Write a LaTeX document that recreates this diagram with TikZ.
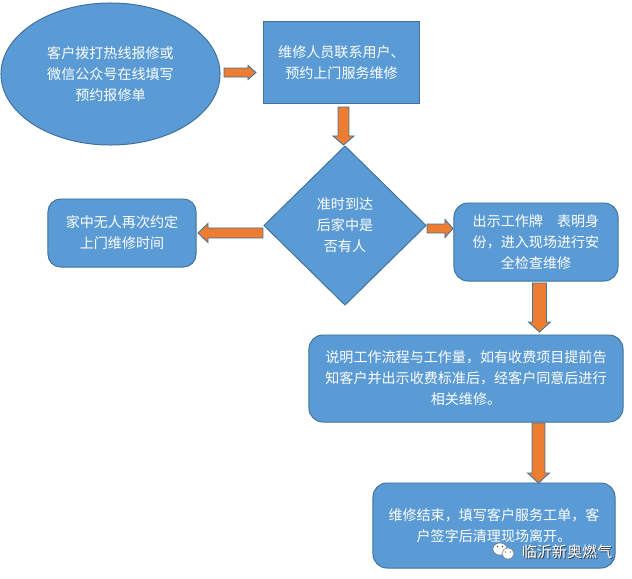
\documentclass[tikz,border=0pt]{standalone}
\usepackage{fontspec}
\newfontfamily\cjk{Noto Sans CJK SC}
\definecolor{boxblue}{RGB}{91, 155, 213}
\definecolor{edgeblue}{RGB}{65, 113, 156}
\definecolor{arroworange}{RGB}{237, 125, 49}
\usetikzlibrary{shapes, positioning, calc}

\tikzset{
  flowbox/.style={draw=edgeblue, fill=boxblue, line width=0.7pt, text=white, align=center,
    inner sep=0pt, outer sep=0pt, font=\cjk\fontsize{10pt}{15pt}\selectfont},
  roundbox/.style={flowbox, rounded corners=9pt},
  flowarrow/.style={draw=edgeblue, fill=arroworange, line width=0.6pt, line join=miter},
}

% block arrow: from, to, shaft half width, head half width, head length
\newcommand{\blockarrow}[5]{%
  \coordinate (hb) at ($(#2)!#5!(#1)$);
  \filldraw[flowarrow] ($(#1)!#3!90:(#2)$) -- ($(hb)!#3!-90:(#1)$) -- ($(hb)!#4!-90:(#1)$)
    -- (#2) -- ($(hb)!#4!90:(#1)$) -- ($(hb)!#3!90:(#1)$) -- ($(#1)!#3!-90:(#2)$) -- cycle;
}

\begin{document}
\begin{tikzpicture}[x=0.025cm, y=-0.025cm]
  \useasboundingbox (0,0) rectangle (632,579);

  % Request and appointment
  \node[flowbox, ellipse, minimum width=5.475cm, minimum height=3.55cm] (call) at (110.5,74)
    {客户拨打热线报修或\\微信公众号在线填写\\预约报修单};
  \node[flowbox, rectangle, minimum width=3.875cm, minimum height=2.025cm] (contact) at (341.5,62.5)
    {维修人员联系用户、\\预约上门服务维修};

  % Decision
  \node[flowbox, diamond, minimum width=4.05cm, minimum height=3.975cm] (home) at (345,225.5)
    {准时到达\\后家中是\\否有人};
  \node[roundbox, minimum width=3.7cm, minimum height=1.7cm] (nobody) at (122,233)
    {家中无人再次约定\\上门维修时间};
  \node[roundbox, rounded corners=10pt, minimum width=4.1cm, minimum height=1.95cm] (badge) at (536,242)
    {出示工作牌\hspace{1em}表明身\\份，进入现场进行安\\全检查维修};

  % Repair and finish
  \node[roundbox, rounded corners=10pt, minimum width=7.85cm, minimum height=2.175cm] (explain) at (466,378.5)
    {说明工作流程与工作量，如有收费项目提前告\\知客户并出示收费标准后，经客户同意后进行\\相关维修。};
  \node[roundbox, rounded corners=10pt, minimum width=6.05cm, minimum height=2.125cm] (finish) at (494,525.5)
    {维修结束，填写客户服务工单，客\\户签字后清理现场离开。};

  % Arrows
  \coordinate (a1s) at ($(call.east)+(4,-1.5)$);
  \coordinate (a1e) at ($(contact.west |- a1s)+(-8,0)$);
  \blockarrow{a1s}{a1e}{3.2pt}{5pt}{5.7pt}
  \coordinate (a2s) at ($(contact.south)+(2,4)$);
  \coordinate (a2e) at ($(home.north)+(-1.5,-1)$);
  \blockarrow{a2s}{a2e}{3.9pt}{7.5pt}{6.4pt}
  \coordinate (a3s) at ($(home.west |- nobody.east)+(-1,0)$);
  \coordinate (a3e) at ($(nobody.east)+(2,0)$);
  \blockarrow{a3s}{a3e}{3.6pt}{6.8pt}{7.1pt}
  \coordinate (a4s) at ($(home.east)+(1,3)$);
  \coordinate (a4e) at ($(home.east -| badge.west)+(-1,3)$);
  \blockarrow{a4s}{a4e}{3.2pt}{6.4pt}{5.7pt}
  \coordinate (a5s) at ($(badge.south)+(3.5,2)$);
  \coordinate (a5e) at ($(badge.south |- explain.north)+(3.5,-3)$);
  \blockarrow{a5s}{a5e}{5pt}{7.8pt}{7.1pt}
  \coordinate (a6s) at ($(explain.south -| badge.south)+(2.5,1)$);
  \coordinate (a6e) at ($(finish.north -| badge.south)+(2.5,0)$);
  \blockarrow{a6s}{a6e}{4.6pt}{7.8pt}{7.1pt}

  % Watermark
  \filldraw[fill=white, draw=gray, line width=0.4pt] (500,549) ellipse [x radius=5pt, y radius=4.3pt];
  \filldraw[fill=white, draw=gray, line width=0.4pt] (508,553.5) ellipse [x radius=4.3pt, y radius=3.9pt];
  \fill[gray!70!black] (497.5,546.5) circle (0.6pt) (502.5,546.5) circle (0.6pt)
    (505.5,552) circle (0.5pt) (510.5,552) circle (0.5pt);
  \node[font=\cjk\fontsize{10.7pt}{12pt}\selectfont, text=black!75] (markshadow) at (568,553) {临沂新奥燃气};
  \node[font=\cjk\fontsize{10.7pt}{12pt}\selectfont, text=white] (mark) at (567,552) {临沂新奥燃气};
\end{tikzpicture}
\end{document}
